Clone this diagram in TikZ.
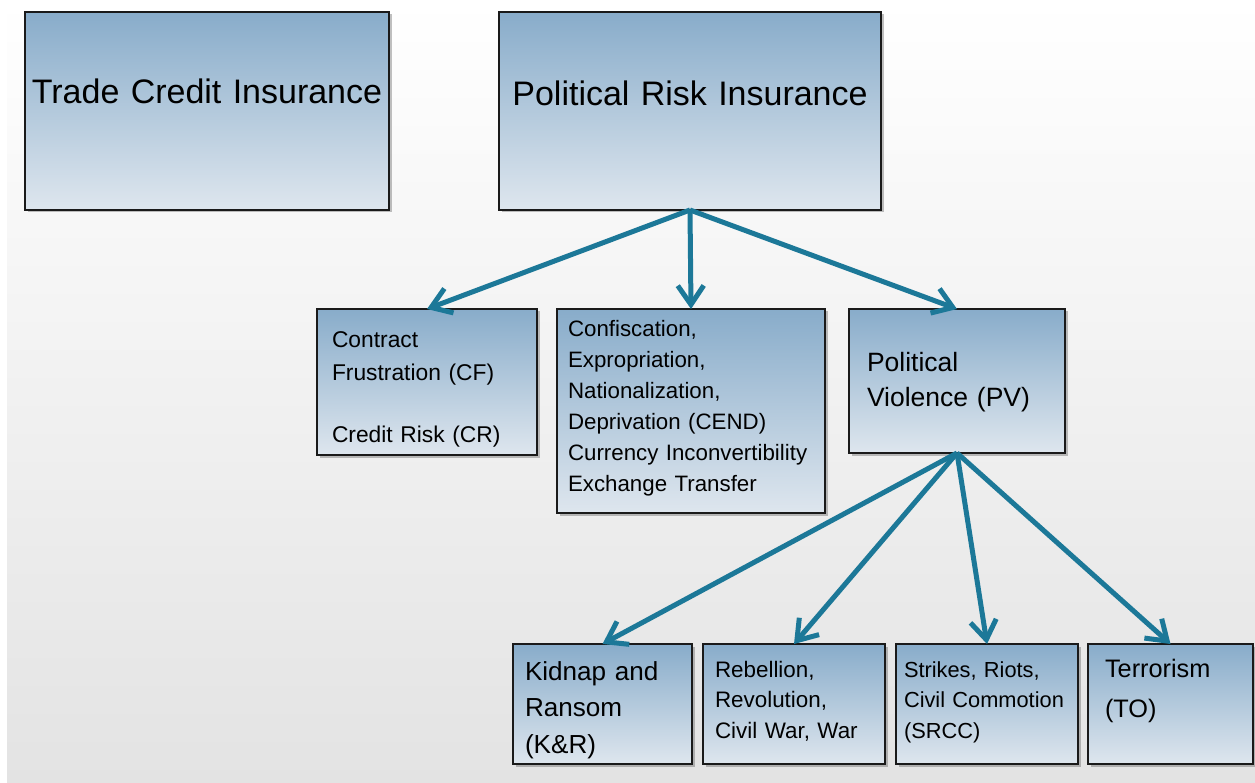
\documentclass[tikz,border=0pt]{standalone}
\usepackage{fontspec}
\setmainfont{Liberation Sans}
\usetikzlibrary{positioning,shadows,arrows.meta}
\hyphenpenalty=10000
\exhyphenpenalty=10000

\definecolor{boxtop}{RGB}{136,172,202}
\definecolor{boxbot}{RGB}{222,230,238}
\definecolor{boxline}{RGB}{26,26,26}
\definecolor{linkc}{RGB}{28,120,152}
\definecolor{bggray}{RGB}{227,227,227}

\tikzset{
  riskbox/.style={draw=boxline, line width=1.2pt, top color=boxtop, bottom color=boxbot,
    drop shadow={shadow xshift=2.5pt, shadow yshift=-2.5pt, opacity=0.35, fill=black!70},
    outer sep=0pt, inner ysep=0pt, align=left, text=black},
  topbox/.style={riskbox, align=center, font=\fontsize{34}{41}\selectfont},
  cell/.style n args={4}{text width=#1, inner xsep=#2, text height=#3, text depth=#4},
  link/.style={draw=linkc, line width=5pt, -{Straight Barb[length=19pt, width=26pt]}},
}

\begin{document}
\begin{tikzpicture}[x=1pt, y=-1pt]
  % Background
  \useasboundingbox (0,0) rectangle (1255,783);
  \fill[white] (0,0) rectangle (1255,783);
  \shade[top color=white, bottom color=bggray] (7,0) rectangle (1255,783);

  % Define nodes
  \node[topbox, cell={358pt}{3pt}{92pt}{106pt}, anchor=north west]  (tci)  at (25,12) {Trade Credit Insurance};
  \node[topbox, cell={366pt}{8pt}{94pt}{104pt}, right=110pt of tci] (pri) {Political Risk Insurance};

  \node[riskbox, cell={190pt}{15pt}{39pt}{107pt}, anchor=north west, font=\fontsize{22.8}{33}\selectfont] (cf) at (317,309)
    {Contract\\Frustration (CF)\\[29pt]Credit Risk (CR)};
  \node[riskbox, cell={246pt}{11pt}{28pt}{176pt}, right=20pt of cf.north east, anchor=north west, font=\fontsize{22.3}{31}\selectfont] (cend)
    {Confiscation,\\Expropriation,\\Nationalization,\\Deprivation (CEND)\\Currency Inconvertibility\\Exchange Transfer};
  \node[riskbox, cell={180pt}{18pt}{62pt}{82pt}, right=24pt of cend.north east, anchor=north west, font=\fontsize{26.5}{35}\selectfont] (pv)
    {Political\\Violence (PV)};

  \node[riskbox, cell={155pt}{12pt}{36pt}{84pt}, anchor=north west, font=\fontsize{26.1}{36.5}\selectfont] (kr) at (513,644)
    {Kidnap and\\Ransom\\(K\&R)};
  \node[riskbox, cell={158pt}{12pt}{33pt}{87pt}, right=11pt of kr.north east, anchor=north west, font=\fontsize{22.4}{30.5}\selectfont] (rrw)
    {Rebellion,\\Revolution,\\Civil War, War};
  \node[riskbox, cell={166pt}{8pt}{33pt}{87pt}, right=11pt of rrw.north east, anchor=north west, font=\fontsize{21.8}{30.5}\selectfont] (srcc)
    {Strikes, Riots,\\Civil Commotion\\(SRCC)};
  \node[riskbox, cell={131pt}{17pt}{33pt}{87pt}, right=10pt of srcc.north east, anchor=north west, font=\fontsize{25.3}{40}\selectfont] (terr)
    {Terrorism\\(TO)};

  % Connect the nodes
  \foreach \n in {cf,cend,pv} \draw[link] (pri.south) -- (\n.north);
  \foreach \n in {kr,rrw,srcc,terr} \draw[link] (pv.south) -- (\n.north);
\end{tikzpicture}
\end{document}
